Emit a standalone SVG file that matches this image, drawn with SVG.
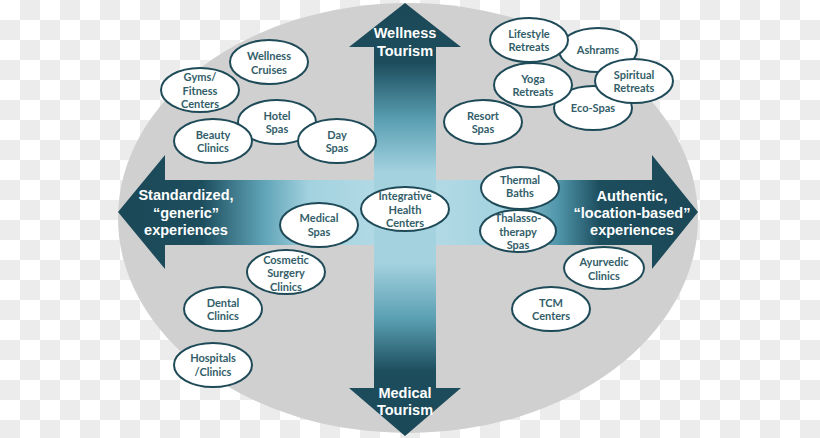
<svg xmlns="http://www.w3.org/2000/svg" width="820" height="438" viewBox="0 0 820 438">
<defs>
<pattern id="checker" width="40" height="40" patternUnits="userSpaceOnUse">
<rect width="40" height="40" fill="#ffffff"/>
<rect x="20" y="0" width="20" height="20" fill="#ececec"/>
<rect x="0" y="20" width="20" height="20" fill="#ececec"/>
</pattern>
<linearGradient id="hgrad" gradientUnits="userSpaceOnUse" x1="118" y1="0" x2="698" y2="0">
<stop offset="0" stop-color="#1b4857"/>
<stop offset="0.145" stop-color="#1d4e5e"/>
<stop offset="0.25" stop-color="#5fa3b7"/>
<stop offset="0.33" stop-color="#a3d2df"/>
<stop offset="0.5" stop-color="#b8dde8"/>
<stop offset="0.66" stop-color="#a3d2df"/>
<stop offset="0.76" stop-color="#4f95aa"/>
<stop offset="0.83" stop-color="#1d4e5e"/>
<stop offset="1" stop-color="#1b4857"/>
</linearGradient>
<linearGradient id="vgrad" gradientUnits="userSpaceOnUse" x1="0" y1="3" x2="0" y2="436">
<stop offset="0" stop-color="#1b4857"/>
<stop offset="0.14" stop-color="#1d4e5e"/>
<stop offset="0.27" stop-color="#5a9fb3"/>
<stop offset="0.39" stop-color="#a4d2df"/>
<stop offset="0.6" stop-color="#a4d2df"/>
<stop offset="0.73" stop-color="#5a9fb3"/>
<stop offset="0.85" stop-color="#1d4e5e"/>
<stop offset="1" stop-color="#1b4857"/>
</linearGradient>
<style>
.n ellipse{fill:#ffffff;stroke:#1f4b58;stroke-width:2}
.n text{font-family:Lato,"Liberation Sans",sans-serif;font-weight:bold;font-size:11px;fill:#335e69;text-anchor:middle}
.big{font-family:"Liberation Sans",Arial,sans-serif;font-weight:bold;font-size:14.5px;fill:#ffffff;text-anchor:middle}
</style>
</defs>
<rect width="820" height="438" fill="url(#checker)"/>
<ellipse cx="408" cy="218" rx="290" ry="215" fill="#d0d0d0"/>
<g id="connectors">
<polygon id="axis-horizontal" points="118,212 165,155 165,180 652,180 652,155 698,212 652,269 652,245 165,245 165,269" fill="url(#hgrad)"/>
<polygon id="axis-vertical" points="405,3 461,47 436,47 436,388 461,388 405,436 349,388 374,388 374,47 349,47" fill="url(#vgrad)"/>
<text class="big" x="405" y="38" font-size="14">Wellness</text>
<text class="big" x="405" y="56" font-size="14">Tourism</text>
<text class="big" x="405" y="398" font-size="14">Medical</text>
<text class="big" x="405" y="415" font-size="14">Tourism</text>
<text class="big" x="186" y="200">Standardized,</text>
<text class="big" x="186" y="218">“generic”</text>
<text class="big" x="186" y="235">experiences</text>
<text class="big" x="632" y="201">Authentic,</text>
<text class="big" x="632" y="218">“location-based”</text>
<text class="big" x="632" y="235">experiences</text>
</g>
<g id="ashrams" class="n"><ellipse cx="598" cy="50" rx="39" ry="22"/><text x="598" y="54">Ashrams</text></g>
<g id="eco-spas" class="n"><ellipse cx="593" cy="108" rx="39" ry="22"/><text x="593" y="112">Eco-Spas</text></g>
<g id="lifestyle-retreats" class="n"><ellipse cx="529" cy="40" rx="39" ry="22"/><text x="529" y="38">Lifestyle</text><text x="529" y="51">Retreats</text></g>
<g id="yoga-retreats" class="n"><ellipse cx="533" cy="85" rx="39" ry="22"/><text x="533" y="83">Yoga</text><text x="533" y="96">Retreats</text></g>
<g id="spiritual-retreats" class="n"><ellipse cx="634" cy="81" rx="39" ry="22"/><text x="634" y="79">Spiritual</text><text x="634" y="92">Retreats</text></g>
<g id="resort-spas" class="n"><ellipse cx="483" cy="122" rx="39" ry="22"/><text x="483" y="120">Resort</text><text x="483" y="133">Spas</text></g>
<g id="wellness-cruises" class="n"><ellipse cx="269" cy="62" rx="39" ry="22"/><text x="269" y="60">Wellness</text><text x="269" y="74">Cruises</text></g>
<g id="gyms-fitness-centers" class="n"><ellipse cx="200" cy="90" rx="39" ry="22"/><text x="200" y="81">Gyms/</text><text x="200" y="95">Fitness</text><text x="200" y="108">Centers</text></g>
<g id="hotel-spas" class="n"><ellipse cx="277" cy="122" rx="39" ry="22"/><text x="277" y="120">Hotel</text><text x="277" y="133">Spas</text></g>
<g id="beauty-clinics" class="n"><ellipse cx="213" cy="141" rx="39" ry="22"/><text x="213" y="139">Beauty</text><text x="213" y="152">Clinics</text></g>
<g id="day-spas" class="n"><ellipse cx="337" cy="141" rx="39" ry="22"/><text x="337" y="139">Day</text><text x="337" y="152">Spas</text></g>
<g id="medical-spas" class="n"><ellipse cx="319" cy="225" rx="39" ry="22"/><text x="319" y="222">Medical</text><text x="319" y="236">Spas</text></g>
<g id="integrative-health-centers" class="n"><ellipse cx="405" cy="209" rx="44" ry="22"/><text x="405" y="200">Integrative</text><text x="405" y="214">Health</text><text x="405" y="227">Centers</text></g>
<g id="cosmetic-surgery-clinics" class="n"><ellipse cx="286" cy="272" rx="39" ry="22"/><text x="286" y="264">Cosmetic</text><text x="286" y="277">Surgery</text><text x="286" y="291">Clinics</text></g>
<g id="dental-clinics" class="n"><ellipse cx="223" cy="309" rx="39" ry="22"/><text x="223" y="307">Dental</text><text x="223" y="320">Clinics</text></g>
<g id="hospitals-clinics" class="n"><ellipse cx="213" cy="365" rx="39" ry="22"/><text x="213" y="362">Hospitals</text><text x="213" y="376">/Clinics</text></g>
<g id="thermal-baths" class="n"><ellipse cx="520" cy="188" rx="39" ry="21"/><text x="520" y="184">Thermal</text><text x="520" y="197">Baths</text></g>
<g id="thalasso-therapy-spas" class="n"><ellipse cx="518" cy="231" rx="38" ry="21"/><text x="518" y="222">Thalasso-</text><text x="518" y="236">therapy</text><text x="518" y="249">Spas</text></g>
<g id="ayurvedic-clinics" class="n"><ellipse cx="604" cy="268" rx="40" ry="21"/><text x="604" y="266">Ayurvedic</text><text x="604" y="280">Clinics</text></g>
<g id="tcm-centers" class="n"><ellipse cx="551" cy="309" rx="39" ry="22"/><text x="551" y="307">TCM</text><text x="551" y="320">Centers</text></g>
</svg>
